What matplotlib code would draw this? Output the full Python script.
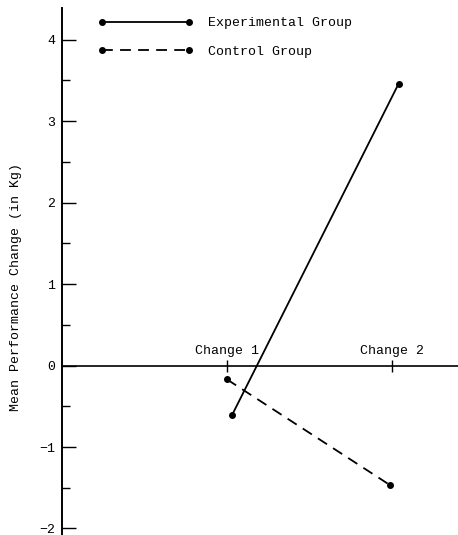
import matplotlib.pyplot as plt

# values
tick_pos = [1, 2]
tick_labels = ['Change 1', 'Change 2']

exp_x = [1.03, 2.04]
exp_y = [-0.61, 3.46]
ctrl_x = [1.0, 1.99]
ctrl_y = [-0.17, -1.47]

plt.rcParams['font.family'] = ['Liberation Mono', 'DejaVu Sans Mono']

fig = plt.figure(figsize=(4.58, 5.35), dpi=100)
ax = fig.add_axes([62 / 458, 0.0, 1 - 62 / 458, 1 - 8 / 535])

ax.plot(exp_x, exp_y, color='black', linewidth=1.3, marker='o', markersize=4,
        label='Experimental Group')
ax.plot(ctrl_x, ctrl_y, color='black', linewidth=1.3, linestyle=(0, (6, 4)),
        marker='o', markersize=4, label='Control Group')

ax.set_xlim(0, 2.4)
ax.set_ylim(-2.08, 4.39)

# x axis drawn at y=0 with labels above it
ax.spines['bottom'].set_visible(False)
ax.spines['right'].set_visible(False)
ax.spines['top'].set_position(('data', 0))
ax.spines['top'].set_linewidth(1.2)
ax.spines['left'].set_linewidth(1.4)
ax.xaxis.tick_top()
ax.set_xticks(tick_pos)
ax.set_xticklabels(tick_labels, fontsize=9.5)
ax.tick_params(axis='x', direction='inout', length=9, width=1.0, pad=2)

ax.set_yticks([-2, -1, 0, 1, 2, 3, 4])
ax.set_yticks([-1.5, -0.5, 0.5, 1.5, 2.5, 3.5], minor=True)
ax.tick_params(axis='y', which='major', direction='in', length=10, width=1.0,
               labelsize=9.5, pad=5)
ax.tick_params(axis='y', which='minor', direction='in', length=6, width=1.0)

ax.set_ylabel('Mean Performance Change (in Kg)', fontsize=9.5)
ax.yaxis.set_label_coords(-0.10, 0.47)

ax.legend(loc='upper left', bbox_to_anchor=(0.06, 1.005), numpoints=2,
          handlelength=7.2, frameon=False, fontsize=9.5, labelspacing=1.2,
          handletextpad=1.2)

fig.savefig('out.png', dpi=100)
